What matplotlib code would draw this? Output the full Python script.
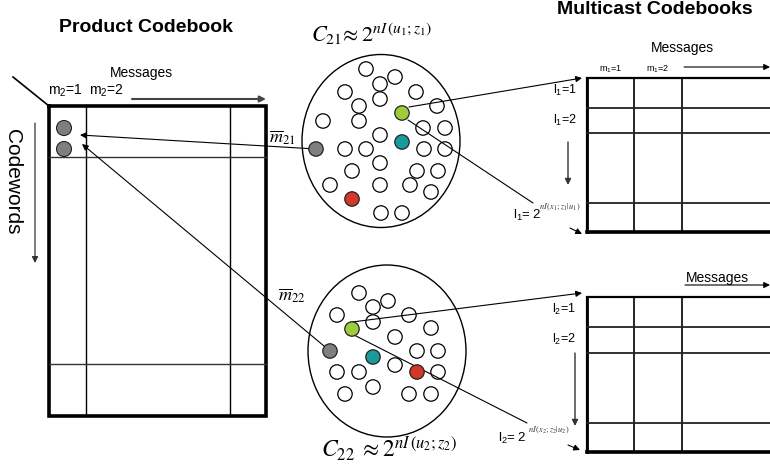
import matplotlib
matplotlib.use("Agg")
import matplotlib.pyplot as plt
from matplotlib.patches import Circle, Ellipse

plt.rcParams["font.family"] = ["Liberation Sans", "DejaVu Sans"]
plt.rcParams["mathtext.fontset"] = "custom"
plt.rcParams["mathtext.rm"] = "Liberation Sans"
plt.rcParams["mathtext.it"] = "Liberation Sans:italic"

# --- diagram data (pixel coordinates, y grows downward) ---
# product codebook grid
prod_cols = [49, 86, 230, 266]
prod_rows = [106, 157, 364, 416]
prod_dots_y = [128, 149]

# top codeword cloud C21
top_cloud = (381, 141, 158, 173)
top_white_x = [366, 395, 380, 345, 416, 380, 359, 437, 323, 359, 423, 445, 380,
               345, 366, 424, 445, 380, 352, 417, 438, 330, 380, 410, 431, 381, 402]
top_white_y = [69, 77, 84, 92, 92, 99, 106, 106, 121, 121, 128, 128, 135,
               149, 149, 149, 149, 163, 171, 171, 171, 185, 185, 185, 192, 213, 213]
top_gray = (316, 149)
top_green = (402, 113)
top_teal = (402, 142)
top_red = (352, 199)

# bottom codeword cloud C22
bot_cloud = (387, 351, 158, 172)
bot_white_x = [359, 388, 373, 337, 409, 373, 431, 395, 417, 438, 395, 337,
               359, 438, 373, 345, 409, 431]
bot_white_y = [293, 301, 307, 315, 315, 322, 328, 337, 351, 351, 365, 372,
               372, 372, 387, 394, 394, 394]
bot_gray = (330, 351)
bot_green = (352, 329)
bot_teal = (373, 357)
bot_red = (417, 372)

# multicast codebook grids
mc_cols = [587, 634, 682]
mc_top_rows = [78, 108, 133, 203, 232]
mc_bot_rows = [297, 327, 353, 423, 452]

fig = plt.figure(figsize=(7.7, 4.67), dpi=100)
ax = fig.add_axes([0, 0, 1, 1])
ax.set_xlim(0, 770)
ax.set_ylim(467, 0)
ax.axis("off")


def arrow(p0, p1, lw=0.8, color="black", head=True):
    ax.annotate("", xy=p1, xytext=p0,
                arrowprops=dict(arrowstyle="-|>" if head else "-", color=color,
                                lw=lw, mutation_scale=9, shrinkA=0, shrinkB=0),
                zorder=3)


# ---------------- product codebook ----------------
ax.text(146, 27, "Product Codebook", fontsize=14, fontweight="bold",
        ha="center", va="center")
ax.text(141, 73, "Messages", fontsize=10, ha="center", va="center")
ax.text(48, 91, r"m$_2$=1  m$_2$=2", fontsize=10, ha="left", va="center")
arrow((132, 99), (266, 99), lw=1.5, color="#444444")
ax.plot([13, 49], [77, 106], color="black", lw=1.2)
ax.text(12, 182, "Codewords", fontsize=15, rotation=-90, ha="center", va="center")
arrow((35, 123), (35, 263), lw=0.9, color="#333333")

ax.plot([prod_cols[0], prod_cols[-1], prod_cols[-1], prod_cols[0], prod_cols[0]],
        [prod_rows[0], prod_rows[0], prod_rows[-1], prod_rows[-1], prod_rows[0]],
        color="black", lw=2.6, solid_joinstyle="miter")
for x in prod_cols[1:-1]:
    ax.plot([x, x], [prod_rows[0], prod_rows[-1]], color="black", lw=1.0)
for y in prod_rows[1:-1]:
    ax.plot([prod_cols[0], prod_cols[-1]], [y, y], color="#333333", lw=1.0)
for y in prod_dots_y:
    ax.add_patch(Circle((64, y), 7.5, facecolor="#7f7f7f", edgecolor="#222222",
                        lw=0.8, zorder=4))

# ---------------- codeword clouds ----------------
for cloud, wx, wy, gray, green, teal, red in [
        (top_cloud, top_white_x, top_white_y, top_gray, top_green, top_teal, top_red),
        (bot_cloud, bot_white_x, bot_white_y, bot_gray, bot_green, bot_teal, bot_red)]:
    cx, cy, w, h = cloud
    ax.add_patch(Ellipse((cx, cy), w, h, facecolor="none", edgecolor="black",
                         lw=1.0, zorder=2))
    for x, y in zip(wx, wy):
        ax.add_patch(Circle((x, y), 7.2, facecolor="white", edgecolor="black",
                            lw=0.9, zorder=2))
    for pos, col in [(gray, "#7f7f7f"), (green, "#9fcc3b"),
                     (teal, "#1b9a9c"), (red, "#d2392b")]:
        ax.add_patch(Circle(pos, 7.2, facecolor=col, edgecolor="#222222",
                            lw=0.9, zorder=4))

ax.text(372, 34, r"$C_{21}\!\approx 2^{nI\,(u_1;z_1)}$", fontsize=16,
        math_fontfamily="stix", ha="center", va="center")
ax.text(389, 449, r"$C_{22}\;\approx 2^{nI\,(u_2;z_2)}$", fontsize=17,
        math_fontfamily="stix", ha="center", va="center")
ax.text(282, 138, r"$\overline{m}_{21}$", fontsize=13, math_fontfamily="stix",
        ha="center", va="center")
ax.text(292, 296, r"$\overline{m}_{22}$", fontsize=13, math_fontfamily="stix",
        ha="center", va="center")

# links from clouds to product codebook
arrow(top_gray, (80, 135))
arrow(bot_gray, (82, 144))

# links from clouds to multicast codebooks
arrow((409, 107), (582, 78))
arrow((408, 120), (533, 203), head=False)
arrow((570, 228), (582, 234))
arrow((352, 322), (582, 293))
arrow((354, 335), (527, 423), head=False)
arrow((568, 445), (580, 450))

# ---------------- multicast codebooks ----------------
ax.text(655, 10, "Multicast Codebooks", fontsize=14, fontweight="bold",
        ha="center", va="center")
ax.text(682, 48, "Messages", fontsize=10, ha="center", va="center")
ax.text(611, 69, r"m$_1$=1", fontsize=6.5, ha="center", va="center")
ax.text(658, 69, r"m$_1$=2", fontsize=6.5, ha="center", va="center")
arrow((684, 67), (770, 67))
ax.text(717, 278, "Messages", fontsize=10, ha="center", va="center")
arrow((685, 285), (770, 285))

for rows, idx in [(mc_top_rows, 1), (mc_bot_rows, 2)]:
    top, bottom = rows[0], rows[-1]
    ax.plot([770, mc_cols[0], mc_cols[0], 770], [top, top, bottom, bottom],
            color="black", lw=1.6, solid_joinstyle="miter")
    ax.plot([mc_cols[0], 770], [bottom, bottom], color="black", lw=2.6)
    ax.plot([mc_cols[0], mc_cols[0]], [top, bottom], color="black", lw=2.0)
    for x in mc_cols[1:]:
        ax.plot([x, x], [top, bottom], color="black", lw=1.2)
    for y in rows[1:-1]:
        ax.plot([mc_cols[0], 770], [y, y], color="#222222", lw=1.3)
    lx = 577 if idx == 1 else 576
    ax.text(lx, top + 12, rf"l$_{idx}$=1", fontsize=9, ha="right", va="center")
    ax.text(lx, top + 42, rf"l$_{idx}$=2", fontsize=9, ha="right", va="center")
    if idx == 1:
        arrow((568, 142), (568, 185), lw=1.0, color="#333333")
    else:
        arrow((575, 353), (575, 426), lw=1.0, color="#333333")

ax.text(513, 215, r"l$_1$= 2", fontsize=9.5, ha="left", va="center")
ax.text(539, 207, r"$nI\,(x_1;z_1|u_1)$", fontsize=6, math_fontfamily="stix",
        ha="left", va="center", color="#333333")
ax.text(498, 438, r"l$_2$= 2", fontsize=9.5, ha="left", va="center")
ax.text(528, 430, r"$nI\,(x_2;z_2|u_2)$", fontsize=6, math_fontfamily="stix",
        ha="left", va="center", color="#333333")

fig.savefig("out.png", dpi=100)
